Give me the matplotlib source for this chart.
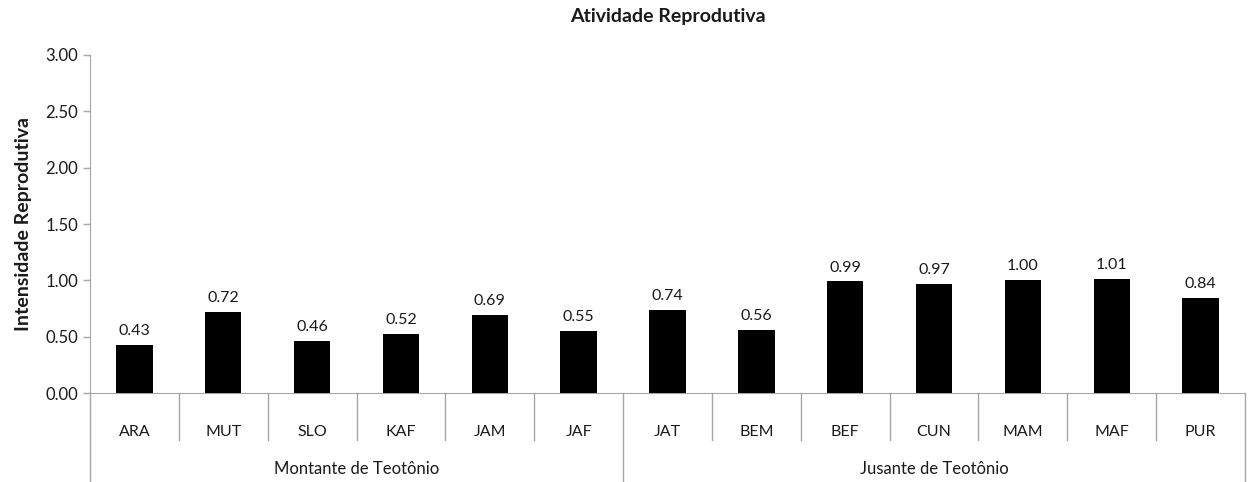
import matplotlib
matplotlib.use("Agg")
import matplotlib.pyplot as plt
import matplotlib.transforms as mtransforms
import numpy as np

sites = ["ARA", "MUT", "SLO", "KAF", "JAM", "JAF",
         "JAT", "BEM", "BEF", "CUN", "MAM", "MAF", "PUR"]
intensity = [0.43, 0.72, 0.46, 0.52, 0.69, 0.55,
             0.74, 0.56, 0.99, 0.97, 1.00, 1.01, 0.84]
groups = ["Montante de Teotônio", "Jusante de Teotônio"]
group_sizes = [6, 7]
yticks = [0.0, 0.5, 1.0, 1.5, 2.0, 2.5, 3.0]

plt.rcParams["font.family"] = ["Lato", "DejaVu Sans"]
line_gray = "#a6a6a6"
text_col = "#1a1a1a"

fig = plt.figure(figsize=(12.5, 4.82), dpi=100)
ax = fig.add_axes([0.072, 0.1846, 0.924, 0.7013])

x = np.arange(len(sites))
ax.bar(x, intensity, width=0.41, color="black", zorder=3)
for xi, v in zip(x, intensity):
    ax.annotate(f"{v:.2f}", (xi, v), xytext=(0, 5), textcoords="offset points",
                ha="center", va="bottom", fontsize=11.5, color=text_col)

ax.set_xlim(-0.5, len(sites) - 0.5)
ax.set_ylim(0, 3)
ax.set_yticks(yticks)
ax.set_yticklabels([f"{t:.2f}" for t in yticks], fontsize=12, color=text_col)
ax.tick_params(axis="y", length=5, color=line_gray, width=1)
ax.set_xticks([])

for side in ("top", "right"):
    ax.spines[side].set_visible(False)
ax.spines["left"].set_color(line_gray)
ax.spines["bottom"].set_color(line_gray)

ax.set_ylabel("Intensidade Reprodutiva", fontsize=14, fontweight="bold",
              color=text_col, labelpad=10)
ax.set_title("Atividade Reprodutiva", fontsize=14, fontweight="bold",
             color=text_col, pad=24)

# two-level category axis below the bars
trans = mtransforms.blended_transform_factory(ax.transData, ax.transAxes)
for xi, name in zip(x, sites):
    ax.text(xi, -0.115, name, transform=trans, ha="center", va="center",
            fontsize=11.5, color=text_col)

boundaries = np.arange(len(sites) + 1) - 0.5
group_edges = np.concatenate([[0], np.cumsum(group_sizes)]) - 0.5
for b in boundaries:
    bottom = -0.263 if b in group_edges else -0.139
    ax.plot([b, b], [0, bottom], transform=trans, color=line_gray, lw=1,
            clip_on=False)

start = 0
for name, n in zip(groups, group_sizes):
    mid = start + (n - 1) / 2
    ax.text(mid, -0.225, name, transform=trans, ha="center", va="center",
            fontsize=12, color=text_col)
    start += n

fig.savefig("out.png", dpi=100)
